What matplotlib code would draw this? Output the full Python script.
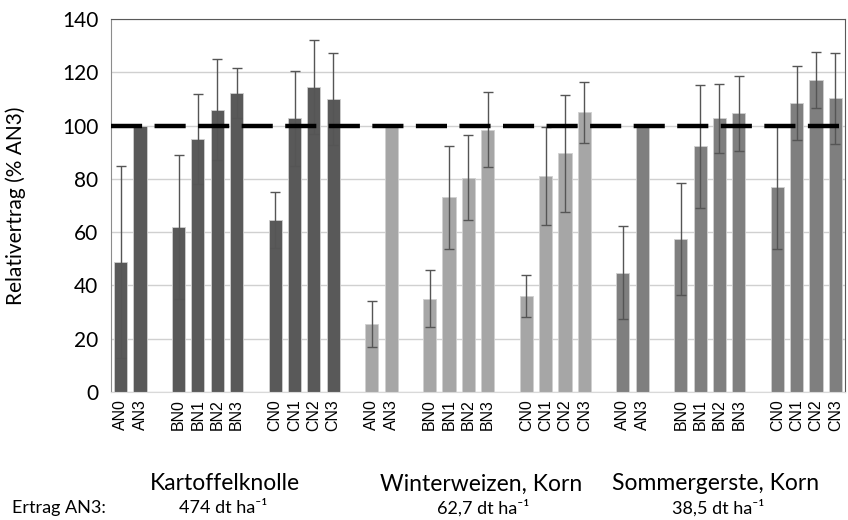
import numpy as np
import matplotlib.pyplot as plt

# data
treatments = ["AN0", "AN3", "BN0", "BN1", "BN2", "BN3", "CN0", "CN1", "CN2", "CN3"]
crops = ["Kartoffelknolle", "Winterweizen, Korn", "Sommergerste, Korn"]
yields = ["474 dt ha⁻¹", "62,7 dt ha⁻¹", "38,5 dt ha⁻¹"]

kartoffel = [48.7, 100, 62, 95, 106, 112.2, 64.5, 102.7, 114.4, 110]
kartoffel_err = [36, 0, 27, 17, 19, 9.5, 10.6, 17.7, 17.6, 17.2]
weizen = [25.5, 100, 35, 73, 80.5, 98.5, 36, 81, 89.6, 105]
weizen_err = [8.6, 0, 10.6, 19.5, 16, 14, 8, 18.5, 22, 11.4]
gerste = [44.8, 100, 57.5, 92.2, 102.7, 104.6, 76.8, 108.4, 117.2, 110.2]
gerste_err = [17.5, 0, 21, 23, 13, 14, 23, 14, 10.5, 17]

values = [kartoffel, weizen, gerste]
errors = [kartoffel_err, weizen_err, gerste_err]
colors = ["#595959", "#a6a6a6", "#7f7f7f"]

# slot positions within one crop group (gaps between A/B/C blocks)
slots = np.array([0, 1, 3, 4, 5, 6, 8, 9, 10, 11])
group_step = 13

fig = plt.figure(figsize=(8.48, 5.2), dpi=100)
ax = fig.add_axes([0.1309, 0.2462, 0.8656, 0.7173])

xticks, xlabels = [], []
for g in range(3):
    x = slots + g * group_step
    ax.bar(x, values[g], width=0.68, color=colors[g], edgecolor="#d0d0d0",
           linewidth=0.6, zorder=2)
    err = np.array(errors[g])
    m = err > 0
    ax.errorbar(x[m], np.array(values[g])[m], yerr=err[m], fmt="none",
                ecolor="#555555", elinewidth=1, capsize=3.5, capthick=1, zorder=3)
    xticks += list(x)
    xlabels += treatments

ax.axhline(100, color="black", lw=3.2, dashes=(7, 2.8), zorder=4)

ax.set_xlim(-0.5, 37.5)
ax.set_ylim(0, 140)
ax.set_yticks(range(0, 141, 20))
ax.yaxis.grid(True, color="#d0d0d0", lw=1, zorder=0)
ax.set_axisbelow(True)
ax.tick_params(axis="y", length=0, labelsize=15, pad=9)
ax.tick_params(axis="x", length=0, pad=5)
ax.set_xticks(xticks)
ax.set_xticklabels(xlabels, rotation=90, fontsize=11.5, family="Liberation Sans")
for lab in ax.get_yticklabels():
    lab.set_family("Lato")
ax.set_ylabel("Relativertrag (% AN3)", fontsize=15, family="Lato", labelpad=26)

ax.spines["top"].set_color("#595959")
ax.spines["right"].set_color("#595959")
ax.spines["left"].set_color("#8c8c8c")
ax.spines["bottom"].set_color("#d9d9d9")

# crop names and yields under the groups
centers = [225, 481, 716]
ycenters = [223, 483, 718]
for g in range(3):
    fig.text(centers[g] / 848, 1 - 484 / 520, crops[g], ha="center", va="center",
             fontsize=16.5, family=["Lato", "DejaVu Sans"])
    fig.text(ycenters[g] / 848, 1 - 508 / 520, yields[g], ha="center", va="center",
             fontsize=13, family=["Lato", "DejaVu Sans"])
fig.text(12 / 848, 1 - 508 / 520, "Ertrag AN3:", ha="left", va="center",
         fontsize=13, family="Lato")

fig.savefig("out.png", dpi=100)
